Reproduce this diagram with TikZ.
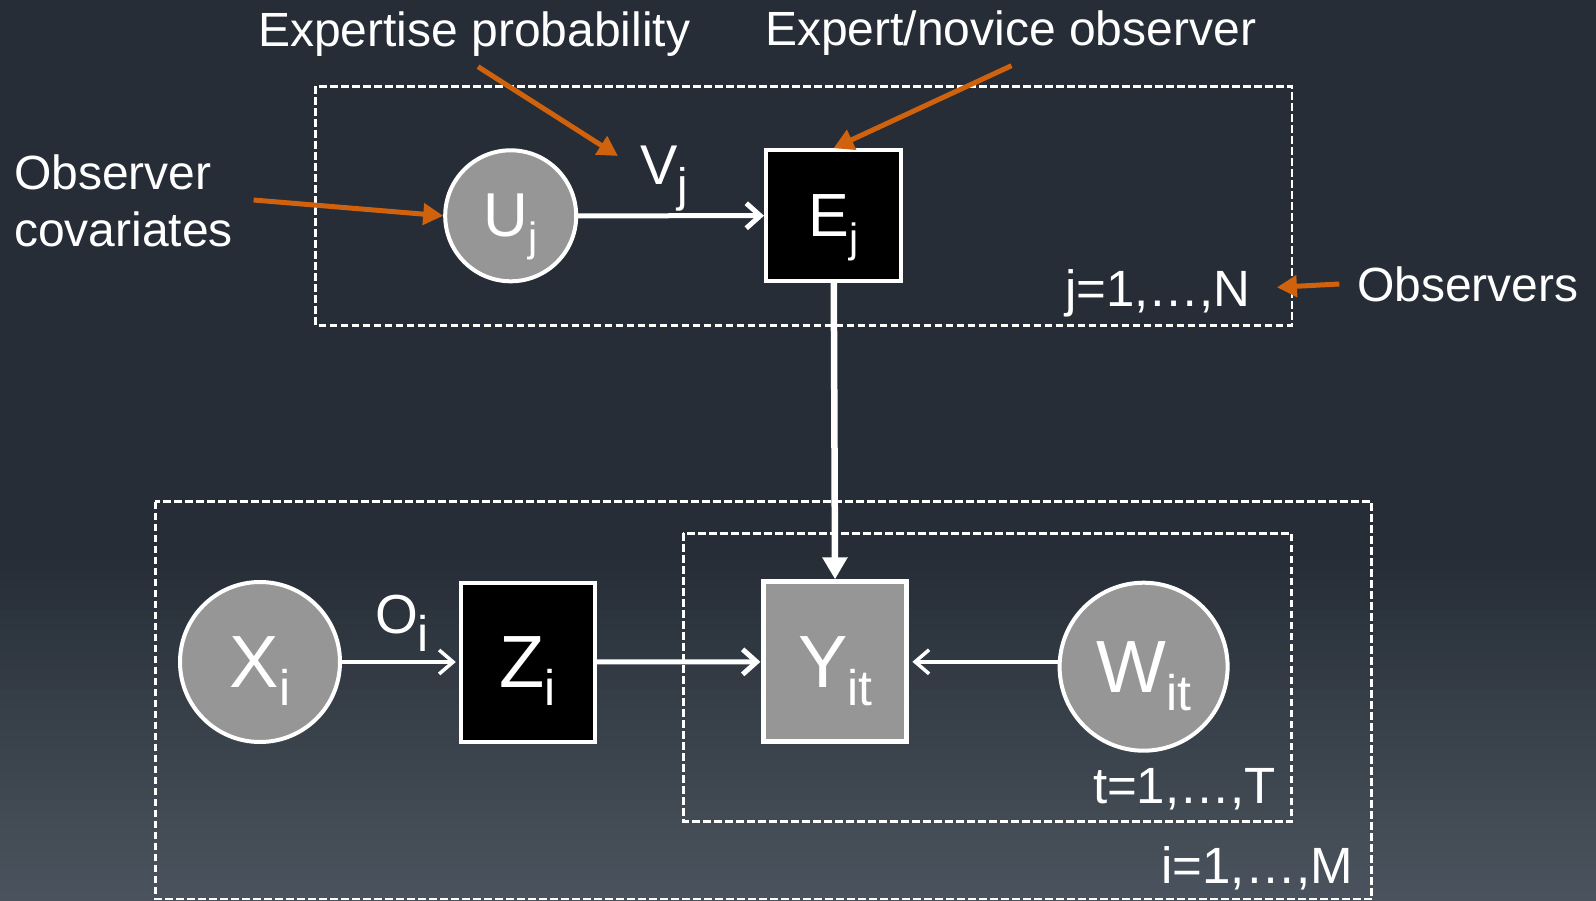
\documentclass[tikz,border=0pt]{standalone}
\usepackage{fontspec}
\setmainfont{Liberation Sans}
\usetikzlibrary{arrows.meta}
\definecolor{bgtop}{HTML}{262D36}
\definecolor{bgbot}{HTML}{4B545E}
\definecolor{orng}{HTML}{D0620D}
\definecolor{nodegray}{HTML}{969696}
\newcommand{\fs}[1]{\fontsize{#1}{#1}\selectfont}
\newcommand{\sublbl}[5]{{\fs{#1}#2}\smash{\raisebox{-#5pt}{\fs{#3}#4}}}
\tikzset{
  plate/.style={draw=white, line width=2.5pt, dash pattern=on 7.5pt off 3.5pt},
  latent/.style={circle, draw=white, fill=nodegray, line width=4pt, inner sep=0pt, text=white},
  obsblack/.style={rectangle, draw=white, fill=black, line width=4pt, inner sep=0pt, text=white},
  obsgray/.style={rectangle, draw=white, fill=nodegray, line width=5pt, inner sep=0pt, text=white},
  note/.style={text=white, inner sep=0pt, font=\fs{48}},
  platelbl/.style={text=white, inner sep=0pt, font=\fs{51}},
  edgelbl/.style={text=white, inner sep=0pt},
  orarrow/.style={draw=orng, line width=5pt, -{Triangle[length=20pt,width=21pt]}},
  wthin/.style={draw=white, line width=3.5pt, -{Straight Barb[length=14pt,width=24pt]}, shorten >=3pt},
  wmid/.style={draw=white, line width=5pt, -{Straight Barb[length=14pt,width=25pt]}},
  wthick/.style={draw=white, line width=6.5pt, -{Triangle[length=22pt,width=24pt]}}
}
\begin{document}
\begin{tikzpicture}[x=1pt,y=-1pt]
\useasboundingbox (0,0) rectangle (1596,901);
% background
\fill[bgtop] (0,0) rectangle (1596,551);
\foreach \i in {0,...,35}{
  \pgfmathsetmacro\p{100*\i/35}
  \fill[bgbot!\p!bgtop] (0,{550+10*\i}) rectangle (1596,{561+10*\i});
}
% plates
\draw[plate] (315.5,86.5) rectangle (1292,325.5);
\draw[plate] (155.3,501.7) rectangle (1371.6,899);
\draw[plate] (683.4,533.3) rectangle (1291.6,821.7);
% nodes
\node[latent, minimum size=131pt] (U) at (510.7,215.8) {\sublbl{62}{U}{41}{j}{15}};
\node[obsblack, minimum width=135pt, minimum height=131pt] (E) at (833.5,215.7) {\sublbl{61}{E}{41}{j}{16}};
\node[latent, minimum size=160pt] (X) at (260,662) {\sublbl{74}{X}{50}{i}{18}};
\node[obsblack, minimum width=134pt, minimum height=159pt] (Z) at (527.8,662) {\sublbl{74}{Z}{50}{i}{18}};
\node[obsgray, minimum width=143pt, minimum height=160pt] (Y) at (835.4,661.8) {\sublbl{74}{Y}{50}{it}{18}};
\node[latent, minimum size=168pt] (W) at (1143.6,666.7) {\sublbl{74}{W}{50}{it}{18}};
% edge labels
\node[edgelbl, anchor=base west] (V) at (640,185) {\sublbl{56}{V}{47}{j}{17}};
\node[edgelbl, anchor=base west] (O) at (375,633) {\sublbl{55}{O}{50}{i}{18}};
% white arrows
\draw[wmid] (U) -- (E);
\draw[wthick] (E) -- (Y);
\draw[wthin] (X) -- (Z);
\draw[wmid, shorten >=1pt] (Z) -- (Y);
\draw[wthin] (W.west |- Y.east) -- (Y.east);
% annotations
\node[note, anchor=base west] (tEP) at (258,46.7) {Expertise probability};
\node[note, anchor=base west] (tEN) at (765,46) {Expert/novice observer};
\node[note, anchor=base west] (tOC1) at (14,189.3) {Observer};
\node[note, anchor=base west] (tOC2) at (14,246.7) {covariates};
\node[note, anchor=base west] (tOB) at (1357,301.7) {Observers};
% plate labels
\node[platelbl, anchor=base east] (lj) at (1251,306.7) {j=1,…,N};
\node[platelbl, anchor=base east] (lt) at (1276,803) {t=1,…,T};
\node[platelbl, anchor=base east] (li) at (1353,883) {i=1,…,M};
% orange arrows
\coordinate (ep) at (478,66.7);
\coordinate (ept) at (618,156);
\draw[orarrow] (ep) -- (ept);
\coordinate (oc) at (253.6,200);
\draw[orarrow] (oc) -- (U.west);
\coordinate (en) at (1011.5,65.7);
\draw[orarrow] (en) -- (E.north);
\coordinate (ob) at (1339.3,284);
\coordinate (obt) at (1276.9,287.3);
\draw[orarrow] (ob) -- (obt);
\end{tikzpicture}
\end{document}
